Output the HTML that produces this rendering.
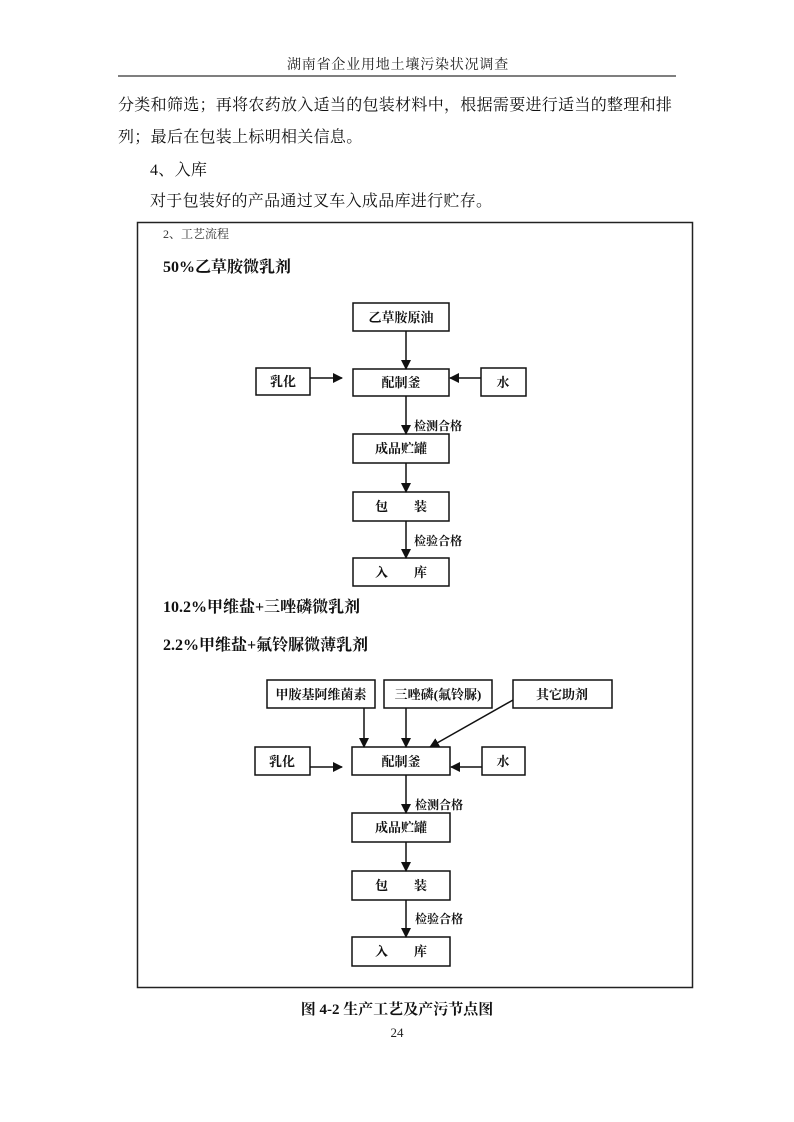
<!DOCTYPE html>
<html><head><meta charset="utf-8"><style>
html,body{margin:0;padding:0;background:#fff}
svg{display:block}
</style></head><body>
<svg width="794" height="1122" viewBox="0 0 794 1122" xmlns="http://www.w3.org/2000/svg" font-family="'Liberation Serif','Noto Serif CJK SC',serif">
<defs><marker id="a" markerWidth="10" markerHeight="10" refX="9" refY="5" orient="auto" markerUnits="userSpaceOnUse"><path d="M0,0 L10,5 L0,10 z" fill="#111"/></marker></defs>
<text x="398" y="69" font-size="14" text-anchor="middle" letter-spacing="0.8" fill="#222">湖南省企业用地土壤污染状况调查</text>
<line x1="118" y1="76" x2="676" y2="76" stroke="#333" stroke-width="1.2"/>
<g font-size="16" fill="#111" letter-spacing="0.3">
<text x="118" y="110">分类和筛选；再将农药放入适当的包装材料中，根据需要进行适当的整理和排</text>
<text x="118" y="142">列；最后在包装上标明相关信息。</text>
<text x="150" y="175">4、入库</text>
<text x="150" y="206">对于包装好的产品通过叉车入成品库进行贮存。</text>
</g>
<rect x="137.5" y="222.5" width="555" height="765" fill="none" stroke="#222" stroke-width="1.5"/>
<text x="163" y="238" font-size="12" fill="#333">2、工艺流程</text>
<g font-size="16" font-weight="bold" fill="#111">
<text x="163" y="272">50%乙草胺微乳剂</text>
<text x="163" y="612">10.2%甲维盐+三唑磷微乳剂</text>
<text x="163" y="650">2.2%甲维盐+氟铃脲微薄乳剂</text>
</g>
<g fill="none" stroke="#111" stroke-width="1.5">
<rect x="353" y="303" width="96" height="28"/>
<rect x="256" y="368" width="54" height="27"/>
<rect x="353" y="369" width="96" height="27"/>
<rect x="481" y="368" width="45" height="28"/>
<rect x="353" y="434" width="96" height="29"/>
<rect x="353" y="492" width="96" height="29"/>
<rect x="353" y="558" width="96" height="28"/>
<rect x="267" y="680" width="108" height="28"/>
<rect x="384" y="680" width="108" height="28"/>
<rect x="513" y="680" width="99" height="28"/>
<rect x="255" y="747" width="55" height="28"/>
<rect x="352" y="747" width="98" height="28"/>
<rect x="482" y="747" width="43" height="28"/>
<rect x="352" y="813" width="98" height="29"/>
<rect x="352" y="871" width="98" height="29"/>
<rect x="352" y="937" width="98" height="29"/>
</g>
<g stroke="#111" stroke-width="1.5" marker-end="url(#a)">
<line x1="406" y1="331" x2="406" y2="369"/>
<line x1="310" y1="378" x2="342" y2="378"/>
<line x1="481" y1="378" x2="450" y2="378"/>
<line x1="406" y1="396" x2="406" y2="434"/>
<line x1="406" y1="463" x2="406" y2="492"/>
<line x1="406" y1="521" x2="406" y2="558"/>
<line x1="364" y1="708" x2="364" y2="747"/>
<line x1="406" y1="708" x2="406" y2="747"/>
<line x1="513" y1="700" x2="430" y2="747"/>
<line x1="310" y1="767" x2="342" y2="767"/>
<line x1="482" y1="767" x2="451" y2="767"/>
<line x1="406" y1="775" x2="406" y2="813"/>
<line x1="406" y1="842" x2="406" y2="871"/>
<line x1="406" y1="900" x2="406" y2="937"/>
</g>
<g font-size="13" font-weight="bold" fill="#111" text-anchor="middle">
<text x="401" y="322">乙草胺原油</text>
<text x="283" y="386">乳化</text>
<text x="401" y="387">配制釜</text>
<text x="503" y="387">水</text>
<text x="401" y="453">成品贮罐</text>
<text x="401" y="511">包　　装</text>
<text x="401" y="577">入　　库</text>
<text x="321" y="699">甲胺基阿维菌素</text>
<text x="438" y="699">三唑磷(氟铃脲)</text>
<text x="562" y="699">其它助剂</text>
<text x="282" y="766">乳化</text>
<text x="401" y="766">配制釜</text>
<text x="503" y="766">水</text>
<text x="401" y="832">成品贮罐</text>
<text x="401" y="890">包　　装</text>
<text x="401" y="956">入　　库</text>
</g>
<g font-size="12" font-weight="bold" fill="#111">
<text x="414" y="430">检测合格</text>
<text x="414" y="545">检验合格</text>
<text x="415" y="809">检测合格</text>
<text x="415" y="923">检验合格</text>
</g>
<text x="397" y="1014" font-size="15" font-weight="bold" text-anchor="middle" fill="#111">图 4-2  生产工艺及产污节点图</text>
<text x="397" y="1037" font-size="13" text-anchor="middle" fill="#222">24</text>
</svg>
</body></html>
